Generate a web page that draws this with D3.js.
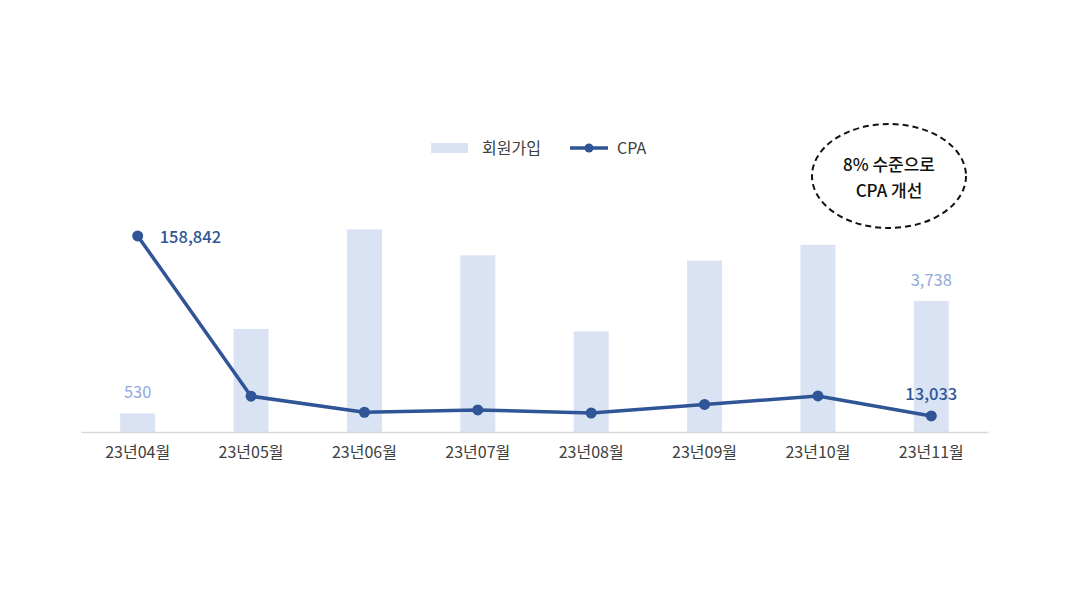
<!DOCTYPE html>
<html><head><meta charset="utf-8">
<script src="https://cdn.jsdelivr.net/npm/d3@7/dist/d3.min.js"></script>
<style>
html,body{margin:0;padding:0;background:#fff;}
svg{display:block;font-family:"Noto Sans CJK KR","Noto Sans",sans-serif;}
</style></head>
<body>
<svg id="chart" width="1067" height="600"></svg>
<script>
const categories = ["23년04월","23년05월","23년06월","23년07월","23년08월","23년09월","23년10월","23년11월"];
const signups = [530, 2940, 5780, 5040, 2870, 4890, 5340, 3738];
const cpa = [158842, 29000, 16000, 17900, 15400, 22300, 29200, 13033];
const legendLabels = ["회원가입", "CPA"];
const calloutLines = ["8% 수준으로", "CPA 개선"];

const svg = d3.select("#chart");
const left = 81, right = 988, base = 432;

const x = d3.scaleBand().domain(categories).range([left, right]).paddingInner(0).paddingOuter(0);
const yBar = d3.scaleLinear().domain([0, 8000]).range([base, base - 8000 / 28.53]);
const yLine = d3.scaleLinear().domain([0, 160000]).range([base, base - 160000 / 810]);

const barW = 35;
const barColor = "#DAE3F3", lineColor = "#2F5597", barLabelColor = "#8FAADC";

// bars
svg.append("g").selectAll("rect").data(categories).join("rect")
  .attr("x", d => x(d) + x.bandwidth() / 2 - barW / 2)
  .attr("width", barW)
  .attr("y", (d, i) => yBar(signups[i]))
  .attr("height", (d, i) => base - yBar(signups[i]))
  .attr("fill", barColor);

// axis
const axis = svg.append("g").attr("transform", `translate(0,${base})`)
  .call(d3.axisBottom(x).tickSize(0).tickPadding(15));
axis.select(".domain").attr("stroke", "#D9D9D9").attr("stroke-width", 1.5);
axis.selectAll("text").attr("fill", "#404040").attr("font-size", 16)
  .attr("font-family", '"Noto Sans CJK KR",sans-serif');

// line
const cx = d => x(d) + x.bandwidth() / 2;
const line = d3.line().x((d, i) => cx(categories[i])).y(d => yLine(d));
svg.append("path").datum(cpa).attr("d", line)
  .attr("fill", "none").attr("stroke", lineColor).attr("stroke-width", 3.5)
  .attr("stroke-linejoin", "round");
svg.append("g").selectAll("circle").data(cpa).join("circle")
  .attr("cx", (d, i) => cx(categories[i])).attr("cy", d => yLine(d))
  .attr("r", 5.5).attr("fill", lineColor);

const fmt = d3.format(",");
// bar labels (first and last)
[0, 7].forEach(i => {
  svg.append("text").attr("x", cx(categories[i])).attr("y", yBar(signups[i]) - 15)
    .attr("text-anchor", "middle").attr("fill", barLabelColor).attr("font-size", 16.5)
    .text(fmt(signups[i]));
});
// line labels
svg.append("text").attr("x", cx(categories[0]) + 22).attr("y", yLine(cpa[0]) + 7)
  .attr("fill", lineColor).attr("font-size", 16.5).attr("font-weight", 500).text(fmt(cpa[0]));
svg.append("text").attr("x", cx(categories[7])).attr("y", yLine(cpa[7]) - 16)
  .attr("text-anchor", "middle").attr("fill", lineColor).attr("font-size", 16.5).attr("font-weight", 500).text(fmt(cpa[7]));

// legend
const lg = svg.append("g");
lg.append("rect").attr("x", 431).attr("y", 143).attr("width", 37).attr("height", 10).attr("fill", barColor);
lg.append("text").attr("x", 482).attr("y", 154).attr("fill", "#404040").attr("font-size", 16).text(legendLabels[0]);
lg.append("line").attr("x1", 570).attr("x2", 608).attr("y1", 148).attr("y2", 148)
  .attr("stroke", lineColor).attr("stroke-width", 3.5);
lg.append("circle").attr("cx", 589).attr("cy", 148).attr("r", 4.5).attr("fill", lineColor);
lg.append("text").attr("x", 617).attr("y", 154).attr("fill", "#404040").attr("font-size", 16).text(legendLabels[1]);

// callout
const co = svg.append("g");
co.append("ellipse").attr("cx", 889).attr("cy", 176).attr("rx", 77).attr("ry", 52)
  .attr("fill", "#fff").attr("stroke", "#111").attr("stroke-width", 2).attr("stroke-dasharray", "6,4");
calloutLines.forEach((t, i) => {
  co.append("text").attr("x", 889).attr("y", 171 + i * 26).attr("text-anchor", "middle")
    .attr("fill", "#111").attr("font-size", 17).attr("font-weight", 500).text(t);
});
</script>
</body></html>
